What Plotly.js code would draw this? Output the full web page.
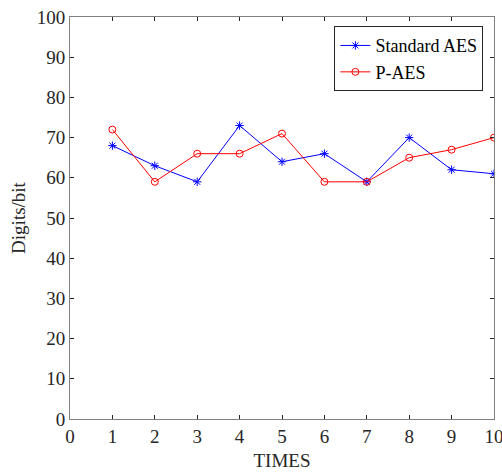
<!DOCTYPE html>
<html><head><meta charset="utf-8">
<script src="https://cdn.plot.ly/plotly-3.0.1.min.js"></script>
<style>html,body{margin:0;padding:0;background:#fff}#chart{width:502px;height:473px}</style>
</head><body><div id="chart"></div>
<script>
var times = [1,2,3,4,5,6,7,8,9,10];
var standardAES = [68,63,59,73,64,66,59,70,62,61];
var pAES = [72,59,66,66,71,59,59,65,67,70];
var xTicks = [0,1,2,3,4,5,6,7,8,9,10];
var yTicks = [0,10,20,30,40,50,60,70,80,90,100];

var fontFam = "'Liberation Serif', 'Times New Roman', serif";
var traces = [
  {x: times, y: standardAES, name: 'Standard AES', mode: 'lines+markers', type: 'scatter',
   line: {color: '#0000ff', width: 1}, marker: {symbol: 'asterisk-open', size: 7, color: '#0000ff', line: {color: '#0000ff', width: 1}}},
  {x: times, y: pAES, name: 'P-AES', mode: 'lines+markers', type: 'scatter',
   line: {color: '#ff0000', width: 1}, marker: {symbol: 'circle-open', size: 7, color: '#ff0000', line: {color: '#ff0000', width: 1}}}
];
var axisCommon = {
  showgrid: false, zeroline: false, showline: true, linecolor: '#808080', linewidth: 1,
  mirror: 'ticks', ticks: 'inside', ticklen: 4, tickcolor: '#262626', tickwidth: 1,
  ticklabeloverflow: 'allow',
  tickfont: {family: fontFam, size: 19, color: '#262626'}
};
var layout = {
  width: 502, height: 473,
  margin: {l: 70, r: 8, t: 17, b: 54},
  paper_bgcolor: '#fff', plot_bgcolor: '#fff',
  font: {family: fontFam, color: '#262626'},
  showlegend: true,
  legend: {x: 0.975, y: 0.977, xanchor: 'right', yanchor: 'top', bordercolor: '#262626', borderwidth: 1,
    bgcolor: '#fff', font: {family: fontFam, size: 18, color: '#000'}, tracegroupgap: 0, itemwidth: 30},
  xaxis: Object.assign({}, axisCommon, {range: [0, 10], tickvals: xTicks, ticktext: xTicks.map(String),
    title: {text: 'TIMES', font: {family: fontFam, size: 19, color: '#262626'}, standoff: 7}}),
  yaxis: Object.assign({}, axisCommon, {range: [0, 100], tickvals: yTicks, ticktext: yTicks.map(String),
    title: {text: 'Digits/bit', font: {family: fontFam, size: 19, color: '#262626'}, standoff: 6}})
};
Plotly.newPlot('chart', traces, layout, {displayModeBar: false, staticPlot: true});
</script></body></html>
